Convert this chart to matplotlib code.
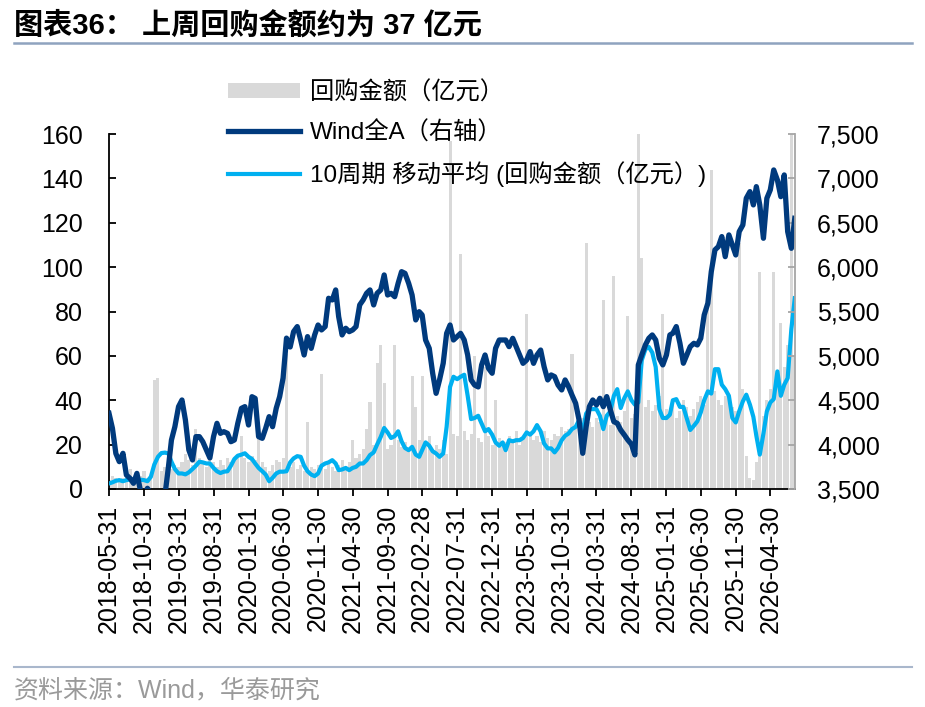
import calendar
import datetime as dt
import matplotlib
matplotlib.use('Agg')
import matplotlib.pyplot as plt
from matplotlib.ticker import FuncFormatter, MultipleLocator
from matplotlib.lines import Line2D
from matplotlib.patches import Patch

FONT = ['Liberation Sans', 'Noto Sans CJK SC', 'DejaVu Sans']
plt.rcParams['font.family'] = FONT

# ---------------- data (semi-monthly observations, from 2018-05-31) ----------------
wind_all_a = [4353, 4184, 3900, 3808, 3902, 3658, 3620, 3564, 3676, 3490,
              3420, 3508, 3450, 3400, 3380, 3400, 3440, 3752, 4052, 4202,
              4428, 4503, 4278, 3940, 3827, 4090, 4090, 4033, 3940, 3850,
              4090, 4240, 4127, 4146, 4127, 4033, 4052, 4240, 4409, 4428,
              4221, 4540, 4521, 4090, 4071, 4184, 4315, 4202, 4409, 4540,
              4750, 5200, 5100, 5273, 5330, 5179, 5010, 5217, 5085, 5236,
              5348, 5292, 5330, 5649, 5630, 5743, 5442, 5236, 5311, 5273,
              5292, 5330, 5574, 5630, 5705, 5743, 5574, 5705, 5743, 5912,
              5686, 5705, 5667, 5818, 5949, 5930, 5818, 5686, 5405, 5498,
              5461, 5179, 5085, 4804, 4578, 4729, 4916, 5254, 5348, 5179,
              5217, 5254, 5179, 5010, 4729, 4672, 4650, 4898, 5010, 4860,
              4804, 5085, 5179, 5179, 5179, 5104, 5198, 5104, 5010, 4916,
              4954, 5048, 4916, 5010, 5066, 4879, 4729, 4785, 4766, 4672,
              4616, 4729, 4653, 4559, 4466, 4278, 3902, 4203, 4428, 4503,
              4447, 4522, 4428, 4541, 4390, 4259, 4240, 4165, 4109, 4053,
              4004, 3884, 4898, 5010, 5123, 5198, 5236, 5179, 4973, 4898,
              5010, 5236, 5255, 5330, 5142, 4917, 5010, 5104, 5142, 5123,
              5198, 5461, 5593, 5949, 6194, 6231, 6344, 6118, 6363, 6250,
              6137, 6400, 6475, 6776, 6851, 6701, 6907, 6701, 6325, 6776,
              6870, 7095, 6982, 6794, 7039, 6400, 6212, 6550]

ma10 = [2.5, 3.0, 3.7, 4.0, 3.5, 4.0, 4.3, 4.3, 4.3, 4.2,
        4.0, 3.5, 5.5, 11.0, 14.5, 16.2, 16.4, 16.0, 12.3, 9.0,
        7.0, 7.0, 6.6, 7.5, 9.0, 10.5, 12.3, 12.0, 11.5, 11.5,
        9.5, 8.0, 7.2, 7.8, 8.0, 10.5, 13.5, 15.0, 15.5, 16.1,
        14.5, 13.5, 11.5, 9.5, 8.0, 6.5, 3.5, 5.0, 7.0, 7.8,
        7.8, 8.0, 12.0, 13.8, 14.8, 14.5, 10.5, 8.0, 6.5, 5.8,
        7.0, 10.5, 11.5, 12.0, 13.0, 11.5, 8.5, 8.8, 9.5, 8.5,
        9.5, 10.0, 11.5, 11.5, 13.0, 15.3, 16.5, 20.0, 23.5, 27.5,
        25.5, 23.0, 23.8, 26.0, 21.5, 18.5, 17.5, 19.0, 15.5, 14.5,
        17.5, 21.0, 19.5, 17.0, 16.0, 14.5, 16.0, 28.0, 46.0, 50.6,
        49.5, 50.6, 51.5, 42.0, 31.5, 32.0, 33.0, 29.5, 26.0, 27.0,
        24.5, 21.0, 19.5, 21.0, 17.5, 22.0, 21.5, 22.0, 22.0, 23.0,
        25.5, 24.5, 26.0, 28.8, 26.0, 20.5, 18.3, 18.3, 16.5, 18.5,
        22.0, 24.0, 25.0, 27.0, 28.0, 31.0, 26.0, 34.0, 36.0, 36.0,
        36.0, 33.0, 27.0, 33.0, 35.0, 42.0, 45.0, 36.5, 41.0, 44.0,
        40.0, 38.0, 39.0, 58.0, 63.0, 64.0, 61.5, 55.0, 36.0, 32.0,
        32.0, 33.5, 40.0, 40.5, 37.0, 37.0, 31.8, 26.6, 28.5, 30.5,
        34.5, 40.0, 44.0, 43.0, 54.0, 54.0, 47.0, 45.0, 42.0, 32.0,
        30.0, 35.0, 39.5, 42.5, 38.0, 32.5, 24.0, 15.5, 25.0, 35.0,
        39.0, 40.5, 53.0, 42.0, 47.0, 50.0, 72.0, 86.0]

buyback = [4, 6, 5, 3, 5, 7, 9, 5, 4, 6,
           8, 5, 6, 49, 50, 8, 10, 12, 9, 11,
           10, 12, 16, 13, 11, 27, 14, 12, 10, 15,
           12, 10, 13, 11, 14, 12, 13, 15, 24, 14,
           12, 15, 13, 28, 12, 10, 8, 11, 13, 12,
           14, 61, 10, 12, 9, 11, 8, 30, 10, 9,
           11, 52, 9, 12, 10, 8, 11, 13, 10, 12,
           22, 14, 16, 18, 27, 39, 20, 57, 65, 48,
           18, 20, 65, 22, 19, 21, 18, 51, 37, 22,
           51, 20, 24, 17, 20, 18, 22, 16, 157, 25,
           24, 106, 26, 22, 25, 60, 23, 21, 55, 24,
           20, 40, 23, 19, 21, 24, 22, 26, 20, 23,
           79, 25, 22, 24, 21, 26, 23, 22, 25, 24,
           28, 26, 27, 61, 29, 25, 32, 111, 30, 28,
           32, 30, 85, 31, 29, 96, 33, 30, 35, 78,
           32, 34, 160, 104, 37, 40, 35, 38, 42, 79,
           36, 34, 38, 32, 35, 40, 37, 33, 36, 39,
           42, 38, 87, 144, 44, 40, 38, 42, 41, 37,
           35, 111, 45, 15, 5, 4, 12, 98, 33, 40,
           45, 98, 50, 75, 55, 65, 160, 60]

xtick_labels = ['2018-05-31', '2018-10-31', '2019-03-31', '2019-08-31', '2020-01-31',
                '2020-06-30', '2020-11-30', '2021-04-30', '2021-09-30', '2022-02-28',
                '2022-07-31', '2022-12-31', '2023-05-31', '2023-10-31', '2024-03-31',
                '2024-08-31', '2025-01-31', '2025-06-30', '2025-11-30', '2026-04-30']

series_names = ['回购金额（亿元）', 'Wind全A（右轴）', '10周期 移动平均 (回购金额（亿元）)']
title_text = '图表36： 上周回购金额约为 37 亿元'
source_text = '资料来源：Wind，华泰研究'


def semi_month_dates(n, year=2018, month=5):
    out = []
    for k in range(n):
        j = k // 2
        if k % 2 == 0:
            mm = month + j
            d = None
        else:
            mm = month + j + 1
            d = 15
        yy = year + (mm - 1) // 12
        mm = (mm - 1) % 12 + 1
        if d is None:
            d = calendar.monthrange(yy, mm)[1]
        out.append(dt.date(yy, mm, d))
    return out


dates = semi_month_dates(len(wind_all_a))
tick_pos = [dt.date.fromisoformat(s) for s in xtick_labels]

# ---------------- figure ----------------
W, H = 925, 707
fig = plt.figure(figsize=(W / 100, H / 100), dpi=100)
ax = fig.add_axes([109 / W, 1 - 489 / H, 686 / W, 355 / H])

GRAY = '#D9D9D9'
NAVY = '#003A7D'
LBLUE = '#00B0F0'

ax.bar(dates, buyback, width=13.5, color=GRAY, linewidth=0, zorder=1)
ax.plot(dates, ma10, color=LBLUE, lw=3.0, zorder=3, solid_joinstyle='round')
ax2 = ax.twinx()
ax2.plot(dates, wind_all_a, color=NAVY, lw=3.8, solid_joinstyle='round')

ax.set_xlim(dates[0], dates[-1] + dt.timedelta(days=1))
ax.set_ylim(0, 160)
ax2.set_ylim(3500, 7500)
ax.yaxis.set_major_locator(MultipleLocator(20))
ax2.yaxis.set_major_locator(MultipleLocator(500))
ax2.yaxis.set_major_formatter(FuncFormatter(lambda v, p: f'{int(v):,}'))

ax.set_xticks(tick_pos)
ax.set_xticklabels(xtick_labels, rotation=90, ha='center', va='top')

for a in (ax, ax2):
    a.spines['top'].set_visible(False)
ax.spines['right'].set_visible(False)
ax2.spines['left'].set_visible(False)
ax2.spines['bottom'].set_visible(False)
ax.spines['left'].set_linewidth(1.3)
ax.spines['bottom'].set_linewidth(1.3)
ax2.spines['right'].set_color('#A6A6A6')
ax2.spines['right'].set_linewidth(1.3)

ax.tick_params(axis='y', direction='in', length=5, width=1.3, labelsize=18, pad=19)
ax.tick_params(axis='x', direction='out', length=5, width=1.3, labelsize=18, pad=6)
ax2.tick_params(axis='y', direction='in', length=5, width=1.3, color='#A6A6A6',
                labelsize=18, pad=16, labelcolor='black')

# legend
handles = [Patch(facecolor=GRAY, edgecolor='none'),
           Line2D([], [], color=NAVY, lw=3.8),
           Line2D([], [], color=LBLUE, lw=3.0)]
fig.legend(handles, series_names, loc='upper left', bbox_to_anchor=(228 / W, 1 - 81 / H),
           frameon=False, fontsize=17.5, handlelength=2.95, handleheight=0.6,
           handletextpad=0.42, labelspacing=0.7, borderpad=0, borderaxespad=0)

# title, rules and source
fig.text(14 / W, 1 - 25 / H, title_text, fontsize=21, fontweight='bold', va='center', ha='left')
fig.add_artist(Line2D([14 / W, 912 / W], [1 - 43 / H] * 2, color='#8FA3BF', lw=1.8))
fig.add_artist(Line2D([14 / W, 912 / W], [1 - 667 / H] * 2, color='#A9B7CC', lw=1.5))
fig.text(14 / W, 1 - 690 / H, source_text, fontsize=18, color='#9A9A9A', va='center', ha='left')

fig.savefig('out.png', dpi=100)
